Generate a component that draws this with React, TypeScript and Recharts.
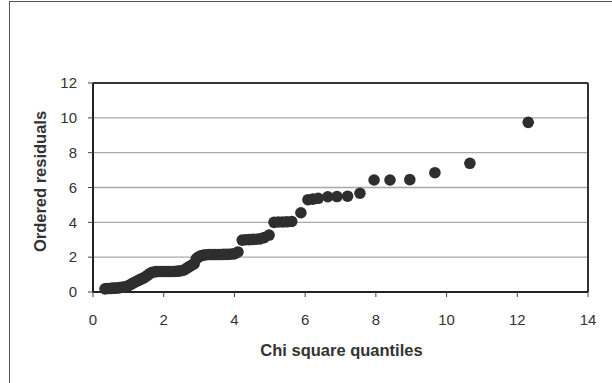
import React from 'react';
import {
  ScatterChart,
  Scatter,
  XAxis,
  YAxis,
  CartesianGrid,
  ReferenceLine,
} from 'recharts';

// Chi square quantiles (x) and ordered residuals (y)
const chiQuantiles: number[] = [
  0.34, 0.4, 0.46, 0.52, 0.58, 0.64, 0.7, 0.76, 0.82, 0.88, 0.94, 1.0,
  1.06, 1.12, 1.18, 1.24, 1.3, 1.36, 1.42, 1.48, 1.54, 1.6, 1.66,
  1.72, 1.79, 1.86, 1.93, 2.0, 2.07, 2.14, 2.21, 2.28, 2.35, 2.42, 2.49, 2.56,
  2.62, 2.68, 2.74, 2.8, 2.86, 2.92, 2.98,
  3.05, 3.13, 3.21, 3.29, 3.37, 3.45, 3.53, 3.61, 3.69, 3.77, 3.85, 3.93, 4.01, 4.1,
  4.22, 4.32, 4.42, 4.52, 4.62, 4.72, 4.84, 4.98,
  5.12, 5.24, 5.36, 5.48, 5.62, 5.88,
  6.08, 6.22, 6.37, 6.64, 6.9, 7.2, 7.55,
  7.95, 8.4, 8.96, 9.67, 10.66, 12.31,
];

const orderedResiduals: number[] = [
  0.18, 0.2, 0.2, 0.21, 0.22, 0.22, 0.23, 0.25, 0.27, 0.29, 0.32, 0.36,
  0.42, 0.5, 0.56, 0.62, 0.68, 0.74, 0.8, 0.86, 0.95, 1.05, 1.12,
  1.15, 1.17, 1.18, 1.18, 1.18, 1.18, 1.18, 1.18, 1.18, 1.19, 1.2, 1.22, 1.25,
  1.32, 1.4, 1.48, 1.55, 1.62, 1.9, 2.0,
  2.08, 2.12, 2.14, 2.15, 2.15, 2.15, 2.15, 2.15, 2.16, 2.16, 2.17, 2.18, 2.2, 2.3,
  2.98, 3.0, 3.01, 3.02, 3.03, 3.05, 3.12, 3.27,
  4.0, 4.02, 4.02, 4.03, 4.05, 4.55,
  5.3, 5.33, 5.38, 5.47, 5.48, 5.5, 5.67,
  6.43, 6.43, 6.45, 6.85, 7.39, 9.74,
];

const xTicks: number[] = [0, 2, 4, 6, 8, 10, 12, 14];
const yTicks: number[] = [0, 2, 4, 6, 8, 10, 12];

const xTitle = 'Chi square quantiles';
const yTitle = 'Ordered residuals';

const points = chiQuantiles.map((x, i) => ({ x, y: orderedResiduals[i] }));

const FONT = 'Arial, "Liberation Sans", Helvetica, sans-serif';
const TEXT = '#333333';
const DOT = '#2e2e2e';

const Dot = (props: any) => {
  const { cx, cy } = props;
  if (cx == null || cy == null) return null;
  return <circle cx={cx} cy={cy} r={5.8} fill={DOT} />;
};

const YTitle = (props: any) => {
  const vb = props.viewBox || { x: 0, y: 83, width: 93, height: 209 };
  const cx = vb.x + 40;
  const cy = vb.y + vb.height / 2 - 6;
  return (
    <text
      x={cx}
      y={cy}
      transform={`rotate(-90 ${cx} ${cy})`}
      textAnchor="middle"
      dominantBaseline="central"
      fontFamily={FONT}
      fontWeight="bold"
      fontSize={16.5}
      fill={TEXT}
    >
      {yTitle}
    </text>
  );
};

const XTitle = (props: any) => {
  const vb = props.viewBox || { x: 93, y: 292, width: 495, height: 60 };
  const cx = vb.x + vb.width / 2 + 1;
  const cy = vb.y + 58;
  return (
    <text
      x={cx}
      y={cy}
      textAnchor="middle"
      dominantBaseline="central"
      fontFamily={FONT}
      fontWeight="bold"
      fontSize={16.5}
      fill={TEXT}
    >
      {xTitle}
    </text>
  );
};

export default function App() {
  return (
    <div
      style={{
        position: 'absolute',
        left: 0,
        top: 0,
        width: 612,
        height: 383,
        overflow: 'hidden',
        background: '#ffffff',
      }}
    >
      <div
        style={{
          position: 'absolute',
          left: 9,
          top: 1,
          width: 700,
          height: 500,
          borderTop: '1.5px solid #555',
          borderLeft: '1.5px solid #555',
        }}
      />
      <div style={{ position: 'absolute', left: 0, top: 0 }}>
        <ScatterChart
          width={612}
          height={383}
          margin={{ top: 83, right: 24, bottom: 31, left: 0 }}
        >
          <CartesianGrid
            horizontal={true}
            vertical={false}
            stroke="#a9a9a9"
            strokeWidth={1.3}
          />
          <XAxis
            type="number"
            dataKey="x"
            domain={[0, 14]}
            ticks={xTicks}
            interval={0}
            height={60}
            tickSize={5}
            tickMargin={17}
            axisLine={{ stroke: '#222', strokeWidth: 2 }}
            tickLine={{ stroke: '#444', strokeWidth: 1 }}
            tick={{ fill: TEXT, fontSize: 15, fontFamily: FONT }}
            label={{ content: XTitle }}
          />
          <YAxis
            type="number"
            dataKey="y"
            domain={[0, 12]}
            ticks={yTicks}
            interval={0}
            width={93}
            tickSize={5}
            tickMargin={11}
            axisLine={{ stroke: '#222', strokeWidth: 2 }}
            tickLine={{ stroke: '#444', strokeWidth: 1 }}
            tick={{ fill: TEXT, fontSize: 15, fontFamily: FONT }}
            label={{ content: YTitle }}
          />
          <ReferenceLine y={12} stroke="#333" strokeWidth={2} />
          <ReferenceLine x={14} stroke="#333" strokeWidth={2} />
          <Scatter
            data={points}
            fill={DOT}
            shape={Dot}
            isAnimationActive={false}
          />
        </ScatterChart>
      </div>
    </div>
  );
}
